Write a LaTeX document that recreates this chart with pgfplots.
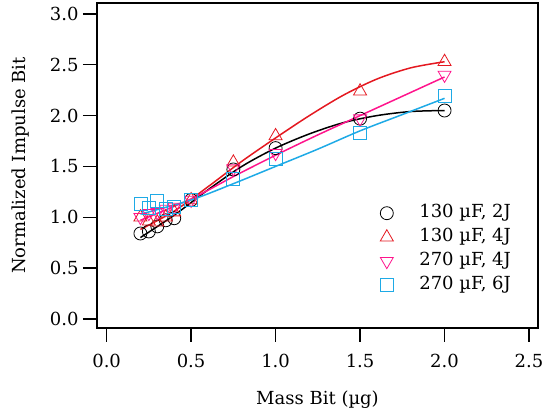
\documentclass[border=0pt]{standalone}
\usepackage{fontspec}
\setmainfont{DejaVu Serif}
\usepackage{pgfplots}
\pgfplotsset{compat=1.18}

\definecolor{cred}{RGB}{228,24,32}
\definecolor{cpink}{RGB}{255,20,140}
\definecolor{ccyan}{RGB}{30,170,230}

\begin{document}
\begin{tikzpicture}[font=\fontsize{18}{21}\selectfont]
\begin{axis}[
    scale only axis,
    width=441pt,
    height=325pt,
    xmin=-0.057, xmax=2.553,
    ymin=-0.09, ymax=3.108,
    xtick={0,0.5,...,2.5},
    ytick={0,0.5,...,3},
    xticklabel style={yshift=-9pt, /pgf/number format/.cd,fixed,fixed zerofill,precision=1},
    yticklabel style={xshift=-1pt, /pgf/number format/.cd,fixed,fixed zerofill,precision=1},
    /pgf/number format/assume math mode=true,
    tick label style={font=\fontsize{18}{21}\selectfont},
    label style={font=\fontsize{18}{21}\selectfont},
    xtick align=outside,
    ytick align=outside,
    xtick pos=left,
    ytick pos=left,
    major tick length=14pt,
    xtick style={line width=1.4pt, black},
    ytick style={line width=1.4pt, black},
    axis line style={line width=1.4pt},
    xlabel={Mass Bit (µg)},
    ylabel={Normalized Impulse Bit},
    xlabel style={at={(axis description cs:0.5,0)}, anchor=base, yshift=-77pt},
    ylabel style={at={(axis description cs:0,0.5)}, anchor=base, yshift=71pt},
    legend cell align=left,
    legend style={draw=none, fill=none, at={(0.642,0.38)}, anchor=north west,
        inner sep=0pt, row sep=7pt,
        font=\fontsize{18}{21}\selectfont,
        nodes={inner sep=0pt, text height=13pt, text depth=4pt}},
]
% fitted curves
\addplot[black, line width=1.5pt, smooth, forget plot] coordinates {
    (0.2,0.80) (0.4,1.02) (0.6,1.27) (0.8,1.50) (1.0,1.68)
    (1.2,1.82) (1.4,1.93) (1.6,2.00) (1.8,2.04) (2.0,2.05)
};
\addplot[cred, line width=1.5pt, smooth, forget plot] coordinates {
    (0.2,0.88) (0.4,1.06) (0.6,1.30) (0.8,1.55) (1.0,1.78)
    (1.2,2.00) (1.4,2.20) (1.6,2.36) (1.8,2.47) (2.0,2.53)
};
\addplot[cpink, line width=1.5pt, smooth, forget plot] coordinates {
    (0.2,0.97) (0.5,1.18) (0.75,1.40) (1.0,1.61)
    (1.25,1.81) (1.5,2.00) (1.75,2.19) (2.0,2.38)
};
\addplot[ccyan, line width=1.5pt, smooth, forget plot] coordinates {
    (0.2,1.03) (0.5,1.17) (0.75,1.33) (1.0,1.50)
    (1.25,1.67) (1.5,1.85) (1.75,2.01) (2.0,2.17)
};
% data
\addplot[only marks, black, mark=o, mark size=6.5pt, line width=0.8pt] coordinates {
    (0.2,0.84) (0.25,0.86) (0.3,0.91) (0.35,0.97) (0.4,0.99)
    (0.5,1.17) (0.75,1.47) (1.0,1.68) (1.5,1.97) (2.0,2.05)
};
\addplot[only marks, cred, mark=triangle, mark size=7.5pt, line width=0.8pt] coordinates {
    (0.2,1.00) (0.25,0.96) (0.3,0.95) (0.35,1.00) (0.4,1.05)
    (0.5,1.17) (0.75,1.54) (1.0,1.80) (1.5,2.24) (2.0,2.53)
};
\addplot[only marks, cpink, mark=triangle, mark options={rotate=180}, mark size=7.5pt, line width=0.8pt] coordinates {
    (0.2,1.00) (0.25,1.04) (0.3,1.05) (0.35,1.08) (0.4,1.10)
    (0.5,1.17) (0.75,1.48) (1.0,1.63) (1.5,1.97) (2.0,2.40)
};
\addplot[only marks, ccyan, mark=square, mark size=6.5pt, line width=0.8pt] coordinates {
    (0.2,1.13) (0.25,1.09) (0.3,1.16) (0.35,1.08) (0.4,1.10)
    (0.5,1.17) (0.75,1.38) (1.0,1.57) (1.5,1.83) (2.0,2.19)
};
\legend{{\hspace{26pt}130 µF, 2J}, {\hspace{26pt}130 µF, 4J},
        {\hspace{26pt}270 µF, 4J}, {\hspace{26pt}270 µF, 6J}}
\end{axis}
\pgfresetboundingbox
\path[use as bounding box] (-97pt,-86pt) rectangle (445pt,328pt);
\end{tikzpicture}
\end{document}
